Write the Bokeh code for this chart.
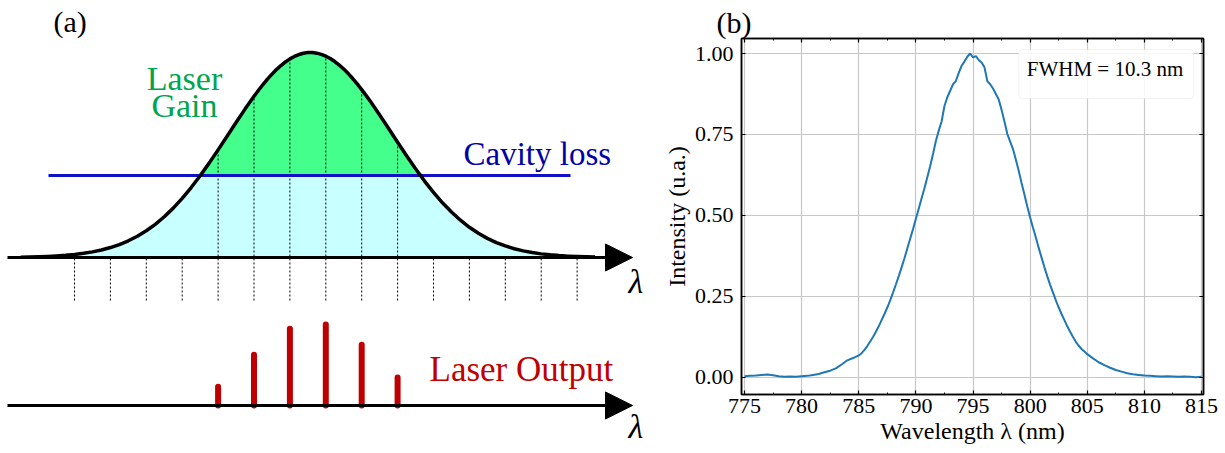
from bokeh.plotting import figure
from bokeh.layouts import row
from bokeh.models import (Range1d, Arrow, NormalHead, Label, BoxAnnotation, LinearAxis,
                          SingleIntervalTicker, FixedTicker, NumeralTickFormatter, Title)
from bokeh.embed import file_html
from bokeh.resources import INLINE

# ---------------- Panel (a) data (schematic, mode-index units) ----------------
gain_x = [-1.5, -1.25, -1.0, -0.75, -0.5, -0.25, 0.0, 0.25, 0.5, 0.75, 1.0, 1.25, 1.5, 1.75,
          2.0, 2.25, 2.5, 2.75, 3.0, 3.25, 3.5, 3.75, 4.0, 4.25, 4.5, 4.75, 5.0,
          5.125, 5.25, 5.375, 5.5, 5.625, 5.75, 5.875, 6.0, 6.125, 6.25, 6.375, 6.5, 6.625,
          6.75, 6.875, 7.0, 7.125, 7.25, 7.375, 7.5, 7.625, 7.75, 7.875, 8.0, 8.125, 8.25,
          8.5, 8.75, 9.0, 9.25, 9.5, 9.75, 10.0, 10.25, 10.5, 10.75, 11.0, 11.25, 11.5, 11.75,
          12.0, 12.25, 12.5, 12.75, 13.0, 13.25, 13.5, 13.75, 14.0, 14.25, 14.5]
gain_y = [0.0017, 0.0026, 0.0037, 0.0054, 0.0076, 0.0107, 0.0148, 0.0203, 0.0275, 0.0367,
          0.0485, 0.0632, 0.0814, 0.1036, 0.1304, 0.1619, 0.1987, 0.2408, 0.2885, 0.3413,
          0.3987, 0.4603, 0.5250, 0.5915, 0.6584, 0.7239, 0.7862,
          0.8157, 0.8437, 0.8700, 0.8943, 0.9166, 0.9365, 0.9540, 0.9688, 0.9809, 0.9901,
          0.9963, 0.9995, 0.9997, 0.9968, 0.9910, 0.9821, 0.9704, 0.9559, 0.9387, 0.9191,
          0.8971, 0.8730, 0.8469, 0.8191, 0.7898, 0.7593,
          0.6953, 0.6290, 0.5621, 0.4963, 0.4327, 0.3729, 0.3173, 0.2668, 0.2216, 0.1818,
          0.1474, 0.1180, 0.0934, 0.0729, 0.0564, 0.0429, 0.0324, 0.0241, 0.0177, 0.0129,
          0.0092, 0.0065, 0.0046, 0.0032, 0.0022]
cavity_loss = 0.40
mode_index = [0, 1, 2, 3, 4, 5, 6, 7, 8, 9, 10, 11, 12, 13, 14]
lasing_modes = [4, 5, 6, 7, 8, 9]
output_heights = [0.26, 0.64, 0.95, 1.00, 0.76, 0.37]

# ---------------- Panel (b) data ----------------
wavelength_nm = [
    775.0, 775.5, 776.0, 776.5, 777.0, 777.5, 778.0, 778.5, 779.0, 779.5,
    780.0, 780.5, 781.0, 781.5, 782.0, 782.5, 783.0, 783.5, 784.0, 784.5,
    785.0, 785.25, 785.5, 785.75, 786.0, 786.25, 786.5, 786.75, 787.0, 787.25,
    787.5, 787.75, 788.0, 788.25, 788.5, 788.75, 789.0, 789.25, 789.5, 789.75,
    790.0, 790.25, 790.5, 790.75, 791.0, 791.25, 791.5, 791.75, 792.0, 792.25,
    792.5, 792.75, 793.0, 793.25, 793.5, 793.75, 794.0, 794.25, 794.5, 794.75,
    795.0, 795.25, 795.5, 795.75, 796.0, 796.25, 796.5, 796.75, 797.0, 797.25,
    797.5, 797.75, 798.0, 798.25, 798.5, 798.75, 799.0, 799.25, 799.5, 799.75,
    800.0, 800.25, 800.5, 800.75, 801.0, 801.25, 801.5, 801.75, 802.0, 802.25,
    802.5, 802.75, 803.0, 803.25, 803.5, 803.75, 804.0, 804.25, 804.5, 804.75,
    805.0,
    805.5, 806.0, 806.5, 807.0, 807.5, 808.0, 808.5, 809.0, 809.5, 810.0,
    810.5, 811.0, 811.5, 812.0, 812.5, 813.0, 813.5, 814.0, 814.5, 815.0]
intensity = [
    0.004, 0.005, 0.006, 0.008, 0.009, 0.007, 0.004, 0.002, 0.003, 0.002,
    0.004, 0.005, 0.008, 0.011, 0.016, 0.021, 0.028, 0.040, 0.053, 0.060,
    0.068, 0.075, 0.085, 0.097, 0.111, 0.125, 0.141, 0.158, 0.177, 0.196,
    0.216, 0.238, 0.262, 0.287, 0.313, 0.340, 0.368, 0.398, 0.428, 0.458,
    0.490, 0.521, 0.553, 0.584, 0.618, 0.652, 0.690, 0.730, 0.762, 0.790,
    0.838, 0.865, 0.885, 0.905, 0.915, 0.940, 0.962, 0.975, 0.990, 1.000,
    0.988, 0.992, 0.980, 0.972, 0.958, 0.915, 0.905, 0.892, 0.875, 0.858,
    0.826, 0.790, 0.752, 0.728, 0.705, 0.672, 0.638, 0.600, 0.565, 0.528,
    0.494, 0.462, 0.432, 0.400, 0.370, 0.340, 0.312, 0.286, 0.262, 0.238,
    0.216, 0.196, 0.177, 0.158, 0.141, 0.125, 0.110, 0.098, 0.088, 0.080,
    0.072,
    0.059, 0.047, 0.038, 0.030, 0.023, 0.018, 0.013, 0.010, 0.008, 0.006,
    0.005, 0.004, 0.003, 0.004, 0.003, 0.002, 0.003, 0.002, 0.001, 0.002]
x_ticks_b = [775, 780, 785, 790, 795, 800, 805, 810, 815]
y_ticks_b = [0.0, 0.25, 0.5, 0.75, 1.0]
fwhm_label = "FWHM = 10.3 nm"

SERIF = "Liberation Serif"

# ---------------- Panel (a) figure ----------------
MODE_PX = 35.9      # pixels per mode spacing
MODE0_PX = 74.0     # pixel position of mode 0
W_A = 660
BASE_UP = 196.0     # upper axis height (px from bottom)
GAIN_H = 205.0      # px for unit gain
BASE_LO = 48.0      # lower axis height
OUT_H = 84.0        # px for unit output
TICK_DROP = 43.0

pa = figure(width=W_A, height=453, x_range=Range1d(-MODE0_PX / MODE_PX, (W_A - MODE0_PX) / MODE_PX),
            y_range=Range1d(0, 453), x_axis_type=None, y_axis_type=None,
            toolbar_location=None, output_backend="svg", min_border=0)
pa.frame_align = False
pa.grid.visible = False
pa.outline_line_color = None

gain_px = [BASE_UP + GAIN_H * g for g in gain_y]
loss_px = BASE_UP + GAIN_H * cavity_loss
pa.varea(x=gain_x, y1=[BASE_UP] * len(gain_x), y2=[min(v, loss_px) for v in gain_px],
         fill_color="#C8FFFF")
pa.varea(x=gain_x, y1=[loss_px] * len(gain_x), y2=[max(v, loss_px) for v in gain_px],
         fill_color="#44FF8C")

gain_at = dict(zip(gain_x, gain_y))
m_top = []
for k in mode_index:
    g = gain_at[float(k)]
    m_top.append(BASE_UP + GAIN_H * g if g > cavity_loss else BASE_UP)
pa.segment(x0=mode_index, y0=[BASE_UP - TICK_DROP] * len(mode_index), x1=mode_index, y1=m_top,
           line_color="black", line_width=1, line_dash="2 2")

pa.segment(x0=[(48 - MODE0_PX) / MODE_PX], y0=[loss_px], x1=[(570 - MODE0_PX) / MODE_PX], y1=[loss_px],
           line_color="#1010C8", line_width=3)
pa.line(gain_x, gain_px, line_color="black", line_width=3.5, line_join="round")

x_start = (7 - MODE0_PX) / MODE_PX
x_tip = (632 - MODE0_PX) / MODE_PX
for yb in (BASE_UP, BASE_LO):
    pa.add_layout(Arrow(end=NormalHead(size=27, fill_color="black", line_color="black"),
                        x_start=x_start, y_start=yb, x_end=x_tip, y_end=yb,
                        line_color="black", line_width=3))

pa.segment(x0=lasing_modes, y0=[BASE_LO] * len(lasing_modes), x1=lasing_modes,
           y1=[BASE_LO + OUT_H * h - 3 for h in output_heights],
           line_color="#C00000", line_width=6, line_cap="round")

def lab(fig, x, y, text, color="black", size=32, align="left", style="normal"):
    fig.add_layout(Label(x=x, y=y + 0.41 * size, text=text, text_color=color, text_font=SERIF,
                         text_font_size=f"{size}px", text_align=align, text_baseline="alphabetic",
                         text_font_style=style))

lab(pa, (53 - MODE0_PX) / MODE_PX, 420, "(a)", size=30)
lab(pa, (184 - MODE0_PX) / MODE_PX, 361, "Laser", color="#00A550", size=34, align="center")
lab(pa, (184 - MODE0_PX) / MODE_PX, 334, "Gain", color="#00A550", size=34, align="center")
lab(pa, (463 - MODE0_PX) / MODE_PX, 286, "Cavity loss", color="#0000A8", size=33)
lab(pa, (429 - MODE0_PX) / MODE_PX, 70, "Laser Output", color="#C00000", size=35)
lab(pa, (628 - MODE0_PX) / MODE_PX, 158, "λ", size=34, style="italic")
lab(pa, (628 - MODE0_PX) / MODE_PX, 13, "λ", size=34, style="italic")

# ---------------- Panel (b) figure ----------------
pb = figure(width=1225 - W_A, height=453, x_range=Range1d(774.74, 815.17),
            y_range=Range1d(-0.0525, 1.0463), toolbar_location=None, output_backend="svg",
            min_border_left=78, min_border_right=22, min_border_top=38, min_border_bottom=59)
pb.frame_align = False
pb.outline_line_color = "black"
pb.outline_line_width = 1.5
pb.title = Title(text="(b)", align="left", offset=-25, standoff=0, text_font=SERIF,
                 text_font_size="30px", text_font_style="normal", text_color="black",
                 text_line_height=1.0)

xt = SingleIntervalTicker(interval=5, num_minor_ticks=2)
yt = FixedTicker(ticks=y_ticks_b, minor_ticks=[])
pb.xaxis.ticker = xt
pb.yaxis.ticker = yt
pb.xgrid.ticker = xt
pb.ygrid.ticker = yt
pb.yaxis.formatter = NumeralTickFormatter(format="0.00")
pb.grid.grid_line_color = "#c8c8c8"
pb.grid.grid_line_width = 1.2

for ax in (pb.xaxis[0], pb.yaxis[0]):
    ax.major_tick_in = 4
    ax.major_tick_out = 0
    ax.minor_tick_in = 2
    ax.minor_tick_out = 0
    ax.axis_line_width = 1.5
    ax.major_tick_line_width = 1.2
    ax.major_label_text_font = SERIF
    ax.major_label_text_font_size = "22px"
    ax.major_label_text_color = "black"
    ax.axis_label_text_font = SERIF
    ax.axis_label_text_font_size = "24px"
    ax.axis_label_text_font_style = "normal"
    ax.axis_label_text_color = "black"
pb.xaxis.axis_label = "Wavelength λ (nm)"
pb.yaxis.axis_label = "Intensity (u.a.)"
pb.xaxis.major_label_standoff = 4
pb.xaxis.axis_label_standoff = 2
pb.yaxis.major_label_standoff = 8
pb.yaxis.axis_label_standoff = 2

for side, tk in (("above", xt), ("right", yt)):
    a2 = LinearAxis(ticker=tk, major_label_text_font_size="1px", major_label_text_color=None,
                    major_label_standoff=0,
                    major_tick_in=4, major_tick_out=0, minor_tick_in=2, minor_tick_out=0,
                    axis_line_width=1.5, major_tick_line_width=1.2)
    pb.add_layout(a2, side)

pb.line(wavelength_nm, intensity, line_color="#1f77b4", line_width=2)

pb.add_layout(BoxAnnotation(left=799.0, right=814.31, bottom=0.861, top=1.0123,
                            fill_color="white", fill_alpha=0.85, line_color="#d4d4d4",
                            line_width=1, border_radius=4))
pb.add_layout(Label(x=799.7, y=0.9537, text=fwhm_label, text_font=SERIF, text_font_size="21px",
                    text_baseline="middle", text_color="black"))

layout = row(pa, pb, spacing=0)
open("out.html", "w").write(file_html(layout, INLINE))
